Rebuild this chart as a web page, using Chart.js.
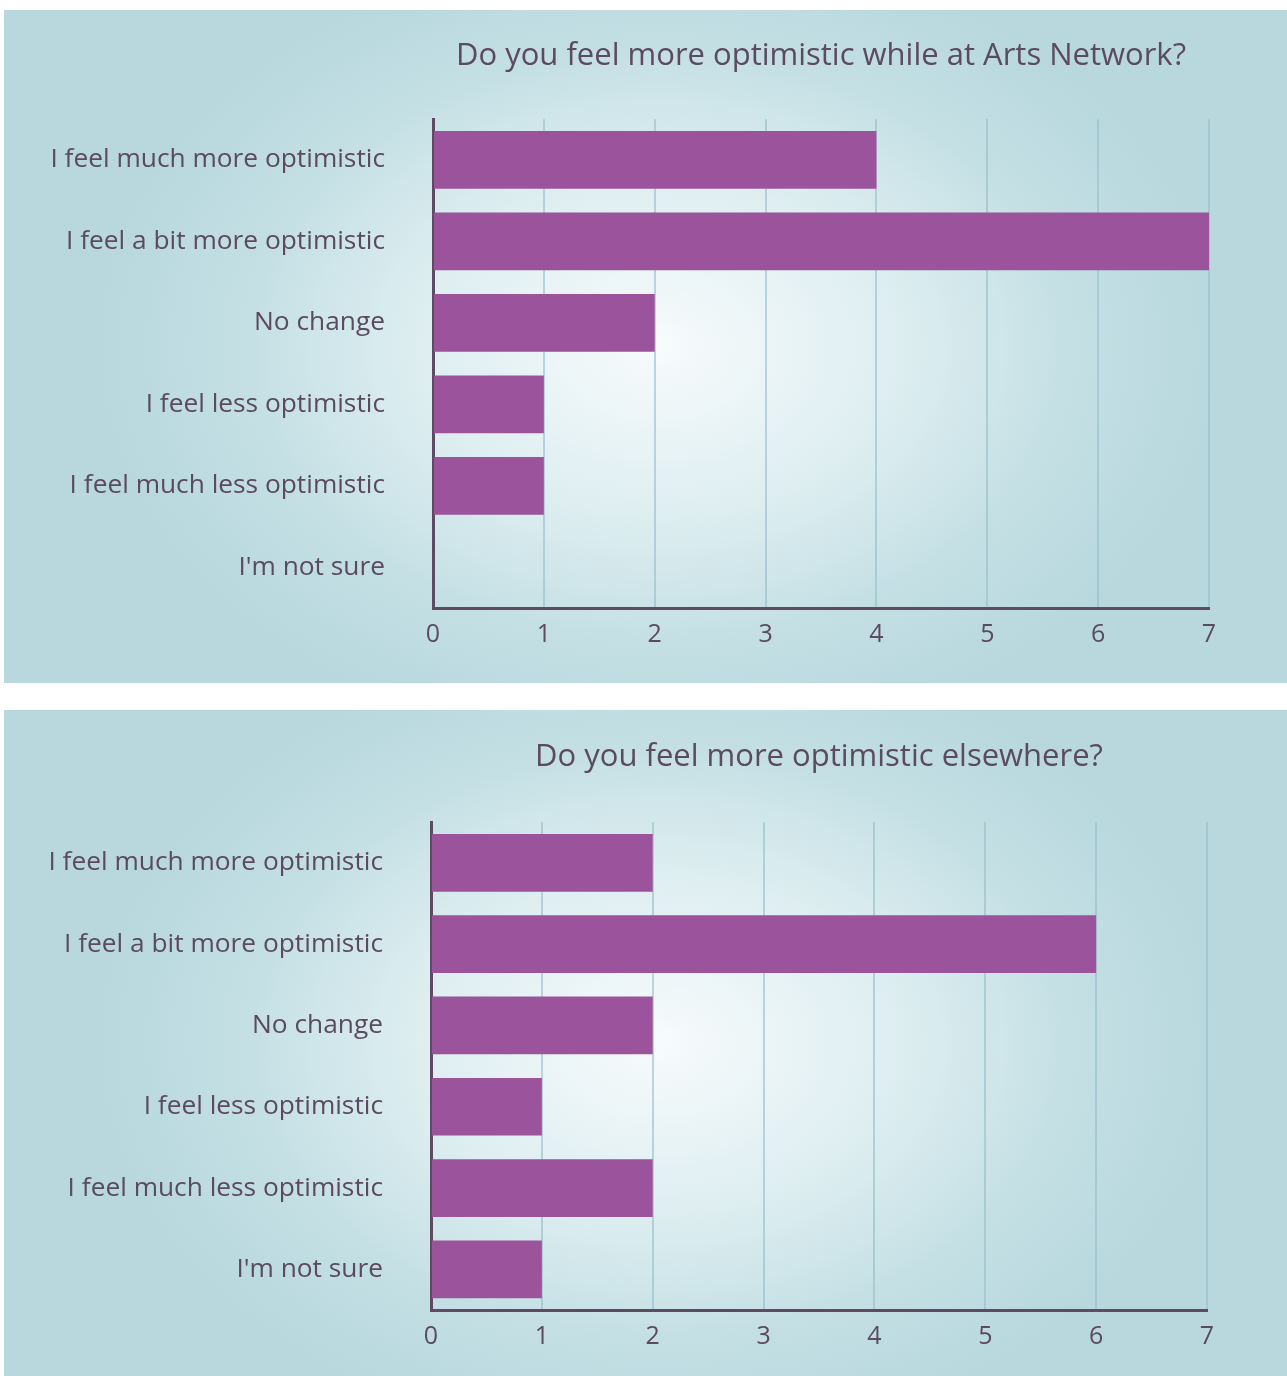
<!DOCTYPE html>
<html>
<head>
<meta charset="utf-8">
<script src="https://cdn.jsdelivr.net/npm/chart.js@4.4.1/dist/chart.umd.min.js"></script>
<style>
  body { margin: 0; background: #fff; width: 1287px; height: 1376px; position: relative; overflow: hidden; }
  .panel {
    position: absolute; left: 4px; width: 1283px;
    background: radial-gradient(ellipse 560px 400px at 51% 50%, #f7fbfc 0%, #dcedf0 45%, #c3dfe4 75%, #b8d8de 100%);
  }
  #p1 { top: 10px; height: 673px; }
  #p2 { top: 710px; height: 666px; }
</style>
</head>
<body>
<div class="panel" id="p1"><canvas id="chart1"></canvas></div>
<div class="panel" id="p2"><canvas id="chart2"></canvas></div>
<script>
const answers = [
  'I feel much more optimistic',
  'I feel a bit more optimistic',
  'No change',
  'I feel less optimistic',
  'I feel much less optimistic',
  "I'm not sure"
];
const artsNetworkCounts = [4, 7, 2, 1, 1, 0];
const elsewhereCounts = [2, 6, 2, 1, 2, 1];
const xTicks = [0, 1, 2, 3, 4, 5, 6, 7];

const textColor = '#5b4a60';
const barColor = '#9b539b';
const fontFamily = '"Open Sans", sans-serif';

function makeChart(id, title, counts, opts) {
  const ctx = document.getElementById(id).getContext('2d');
  return new Chart(ctx, {
    type: 'bar',
    data: {
      labels: answers,
      datasets: [{
        data: counts,
        backgroundColor: barColor,
        borderWidth: 0,
        categoryPercentage: 1,
        barPercentage: 0.71
      }]
    },
    options: {
      indexAxis: 'y',
      responsive: true,
      maintainAspectRatio: false,
      animation: false,
      layout: { padding: { left: 0, right: opts.right, top: 0, bottom: 0 } },
      plugins: {
        legend: { display: false },
        tooltip: { enabled: false },
        title: {
          display: true,
          text: title,
          fullSize: false,
          color: textColor,
          font: { family: fontFamily, size: 31, weight: 'normal' },
          padding: { top: opts.titleTop, bottom: opts.titleBottom }
        }
      },
      scales: {
        x: {
          min: xTicks[0],
          max: xTicks[xTicks.length - 1],
          afterBuildTicks: scale => { scale.ticks = xTicks.map(v => ({ value: v })); },
          afterFit: scale => { scale.height = opts.axisHeight; },
          grid: { color: 'rgba(150,188,200,0.6)', lineWidth: 2, drawTicks: false },
          border: { color: '#5e4a62', width: 3 },
          ticks: { color: textColor, padding: 12, font: { family: fontFamily, size: 25 } }
        },
        y: {
          afterFit: scale => { scale.width = opts.axisWidth; },
          grid: { display: false, drawTicks: false },
          border: { color: '#5e4a62', width: 3 },
          ticks: { color: textColor, padding: 48, font: { family: fontFamily, size: 26.3 } }
        }
      }
    }
  });
}

makeChart('chart1', 'Do you feel more optimistic while at Arts Network?', artsNetworkCounts,
  { right: 78, axisWidth: 429, axisHeight: 75, titleTop: 28, titleBottom: 44 });
makeChart('chart2', 'Do you feel more optimistic elsewhere?', elsewhereCounts,
  { right: 80, axisWidth: 427, axisHeight: 66, titleTop: 29, titleBottom: 46 });
</script>
</body>
</html>
